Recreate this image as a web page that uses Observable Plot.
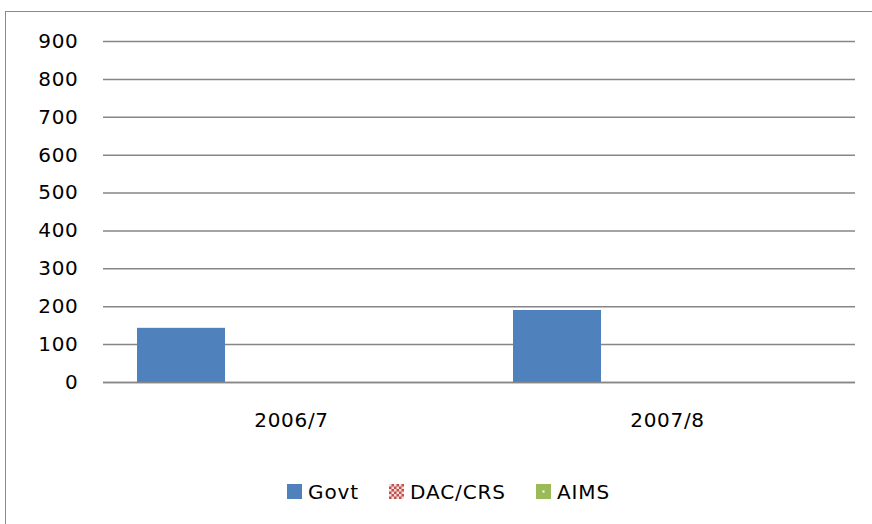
<!DOCTYPE html>
<html>
<head>
<meta charset="utf-8">
<script src="https://cdn.jsdelivr.net/npm/d3@7"></script>
<script src="https://cdn.jsdelivr.net/npm/@observablehq/plot@0.6"></script>
<style>
  html, body { margin: 0; padding: 0; background: #fff; overflow: hidden; }
  #wrap { position: relative; width: 872px; height: 524px; overflow: hidden; font-family: "DejaVu Sans", sans-serif; }
  #border { position: absolute; left: 4.5px; top: 10.5px; width: 900px; height: 600px; border: 1.6px solid #8a8a8a; box-sizing: border-box; }
  #chart { position: absolute; left: 0; top: 0; }
  #legend { position: absolute; left: 287px; top: 482px; font-size: 20px; line-height: 20px; letter-spacing: 0.9px; white-space: nowrap; color: #000; }
  #legend .item { display: inline-block; }
  #legend svg { vertical-align: baseline; margin-right: 6px; }
</style>
</head>
<body>
<div id="wrap">
  <div id="border"></div>
  <div id="chart"></div>
  <div id="legend"></div>
</div>
<script>
const categories = ["2006/7", "2007/8"];
const series = ["Govt", "DAC/CRS", "AIMS"];
const govt = [143, 190];
const dacCrs = [0, 0];
const aims = [0, 0];
const yTicks = [0, 100, 200, 300, 400, 500, 600, 700, 800, 900];
const colors = ["#4F81BD", "#C0504D", "#9BBB59"];

const values = [govt, dacCrs, aims];
const data = [];
categories.forEach((c, i) => series.forEach((s, j) => data.push({cat: c, series: s, value: values[j][i]})));

const chart = Plot.plot({
  width: 872,
  height: 440,
  marginTop: 41,
  marginBottom: 58,
  marginLeft: 103,
  marginRight: 17,
  style: {fontFamily: "DejaVu Sans, sans-serif", fontSize: "20px", letterSpacing: "0.7px", color: "#000", background: "transparent"},
  fx: {domain: categories, padding: 0, axis: "bottom", tickSize: 0, tickPadding: 30, label: null},
  x: {domain: series, axis: null, paddingInner: 0, paddingOuter: 0, insetLeft: 34, insetRight: 78},
  y: {domain: [0, 900], ticks: yTicks, tickSize: 0, tickPadding: 25, label: null, tickFormat: d => String(d)},
  color: {domain: series, range: colors},
  marks: [
    Plot.ruleY(yTicks, {stroke: "#868686", strokeWidth: 1.5, strokeOpacity: 1}),
    Plot.barY(data, {fx: "cat", x: "series", y: "value", fill: "series"}),
    Plot.ruleY([0], {stroke: "#868686", strokeWidth: 1.5, strokeOpacity: 1})
  ]
});
document.getElementById("chart").appendChild(chart);

// Legend
const swatch = {
  "Govt": `<svg width="15" height="15"><rect width="15" height="15" fill="${colors[0]}"/></svg>`,
  "DAC/CRS": `<svg width="15" height="15"><defs><pattern id="chk" width="5" height="5" patternUnits="userSpaceOnUse"><rect width="5" height="5" fill="${colors[1]}"/><rect x="0" y="0" width="2.5" height="2.5" fill="#f6dcdb"/><rect x="2.5" y="2.5" width="2.5" height="2.5" fill="#f6dcdb"/></pattern></defs><rect width="15" height="15" fill="url(#chk)"/></svg>`,
  "AIMS": `<svg width="15" height="15"><rect width="15" height="15" fill="${colors[2]}"/><rect x="6.5" y="6.5" width="2" height="2" fill="#fff"/></svg>`
};
const legend = document.getElementById("legend");
legend.innerHTML = series.map((s, i) =>
  `<span class="item" style="margin-right:${i < series.length - 1 ? 30 : 0}px">${swatch[s]}${s}</span>`
).join("");
</script>
</body>
</html>
